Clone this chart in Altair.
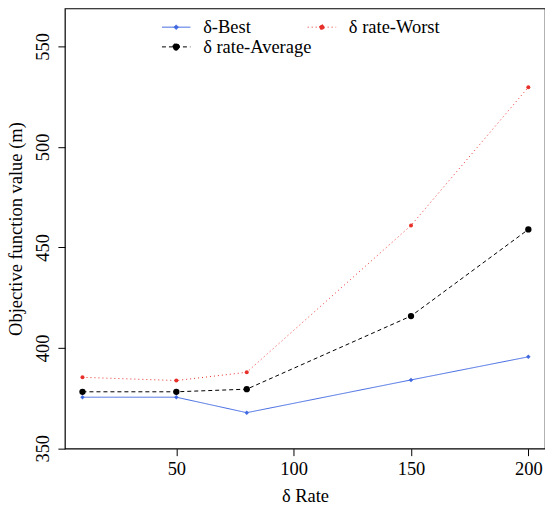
import altair as alt
import pandas as pd

rates = [10, 50, 80, 150, 200]
best = [375.4, 375.4, 367.7, 384.0, 395.5]
average = [378.1, 378.1, 379.4, 415.8, 458.9]
worst = [385.3, 383.7, 387.8, 460.9, 529.7]

series_names = ["δ-Best", "δ rate-Average", "δ rate-Worst"]
series_values = [best, average, worst]
series_colors = ["#4169E1", "#000000", "#E8302A"]
series_dash = [[1, 0], [4, 3], [1, 3]]
series_shape = ["diamond", "circle", "circle"]
series_size = [20, 40, 16]
legend_paths = [
    "M-1.5,0L1.5,0M0,-0.24L0.24,0L0,0.24L-0.24,0Z",
    "M-1.5,0L1.5,0M-0.35,0A0.35,0.35 0 1,1 0.35,0A0.35,0.35 0 1,1 -0.35,0Z",
    "M-1.5,0L1.5,0M-0.26,0A0.26,0.26 0 1,1 0.26,0A0.26,0.26 0 1,1 -0.26,0Z",
]

x_ticks = [50, 100, 150, 200]
y_ticks = [350, 400, 450, 500, 550]

rows = []
for name, vals in zip(series_names, series_values):
    for r, v in zip(rates, vals):
        rows.append({"rate": r, "value": v, "series": name})
df = pd.DataFrame(rows)

FONT = "Liberation Serif"
FS = 18.5

x_enc = alt.X("rate:Q", scale=alt.Scale(domain=[2.5, 207.1], nice=False, zero=False),
              axis=alt.Axis(values=x_ticks, title="δ Rate", grid=False, domain=False,
                            tickSize=7, tickColor="black", labelPadding=4,
                            labelFontSize=FS, titleFontSize=FS, titlePadding=8,
                            labelFont=FONT, titleFont=FONT, titleFontWeight="normal",
                            labelColor="black", titleColor="black"))
y_enc = alt.Y("value:Q", scale=alt.Scale(domain=[349.8, 568.9], nice=False, zero=False),
              axis=alt.Axis(values=y_ticks, title="Objective function value (m)", grid=False,
                            domain=False, tickSize=7, tickColor="black",
                            labelAngle=-90, labelAlign="center", labelBaseline="bottom",
                            labelPadding=5, labelFontSize=FS, titleFontSize=FS, titlePadding=8,
                            labelFont=FONT, titleFont=FONT, titleFontWeight="normal",
                            labelColor="black", titleColor="black"))

layers = []
for name, col, dash in zip(series_names, series_colors, series_dash):
    layers.append(
        alt.Chart(df).transform_filter(alt.datum.series == name)
        .mark_line(strokeWidth=1, color=col, strokeDash=dash)
        .encode(x=x_enc, y=y_enc)
    )
for name, col, shp, sz in zip(series_names, series_colors, series_shape, series_size):
    layers.append(
        alt.Chart(df).transform_filter(alt.datum.series == name)
        .mark_point(filled=True, opacity=1, strokeWidth=0, color=col, shape=shp, size=sz)
        .encode(x=x_enc, y=y_enc)
    )

legend = alt.Legend(
    title=None, orient="none", legendX=101.5, legendY=8.5, columns=2, columnPadding=-8,
    rowPadding=0, symbolSize=361, symbolStrokeWidth=1, symbolOpacity=1,
    labelFont=FONT, labelFontSize=FS, labelColor="black", labelOffset=17,
)
legend_layer = alt.Chart(df).mark_point(opacity=0, strokeWidth=1).encode(
    x=x_enc, y=y_enc,
    fill=alt.Fill("series:N", scale=alt.Scale(domain=series_names, range=series_colors), legend=legend),
    stroke=alt.Stroke("series:N", scale=alt.Scale(domain=series_names, range=series_colors), legend=legend),
    strokeDash=alt.StrokeDash("series:N", scale=alt.Scale(domain=series_names, range=series_dash), legend=legend),
    shape=alt.Shape("series:N", scale=alt.Scale(domain=series_names, range=legend_paths), legend=legend),
)
layers.append(legend_layer)

chart = alt.layer(*layers).properties(
    width=481, height=441,
    autosize=alt.AutoSizeParams(type="none"),
    padding={"left": 65, "top": 8, "right": 0, "bottom": 61},
    background="white",
).configure_view(stroke="black", strokeWidth=1.2)

chart.save("out.html", embed_options={"renderer": "svg", "actions": False})
